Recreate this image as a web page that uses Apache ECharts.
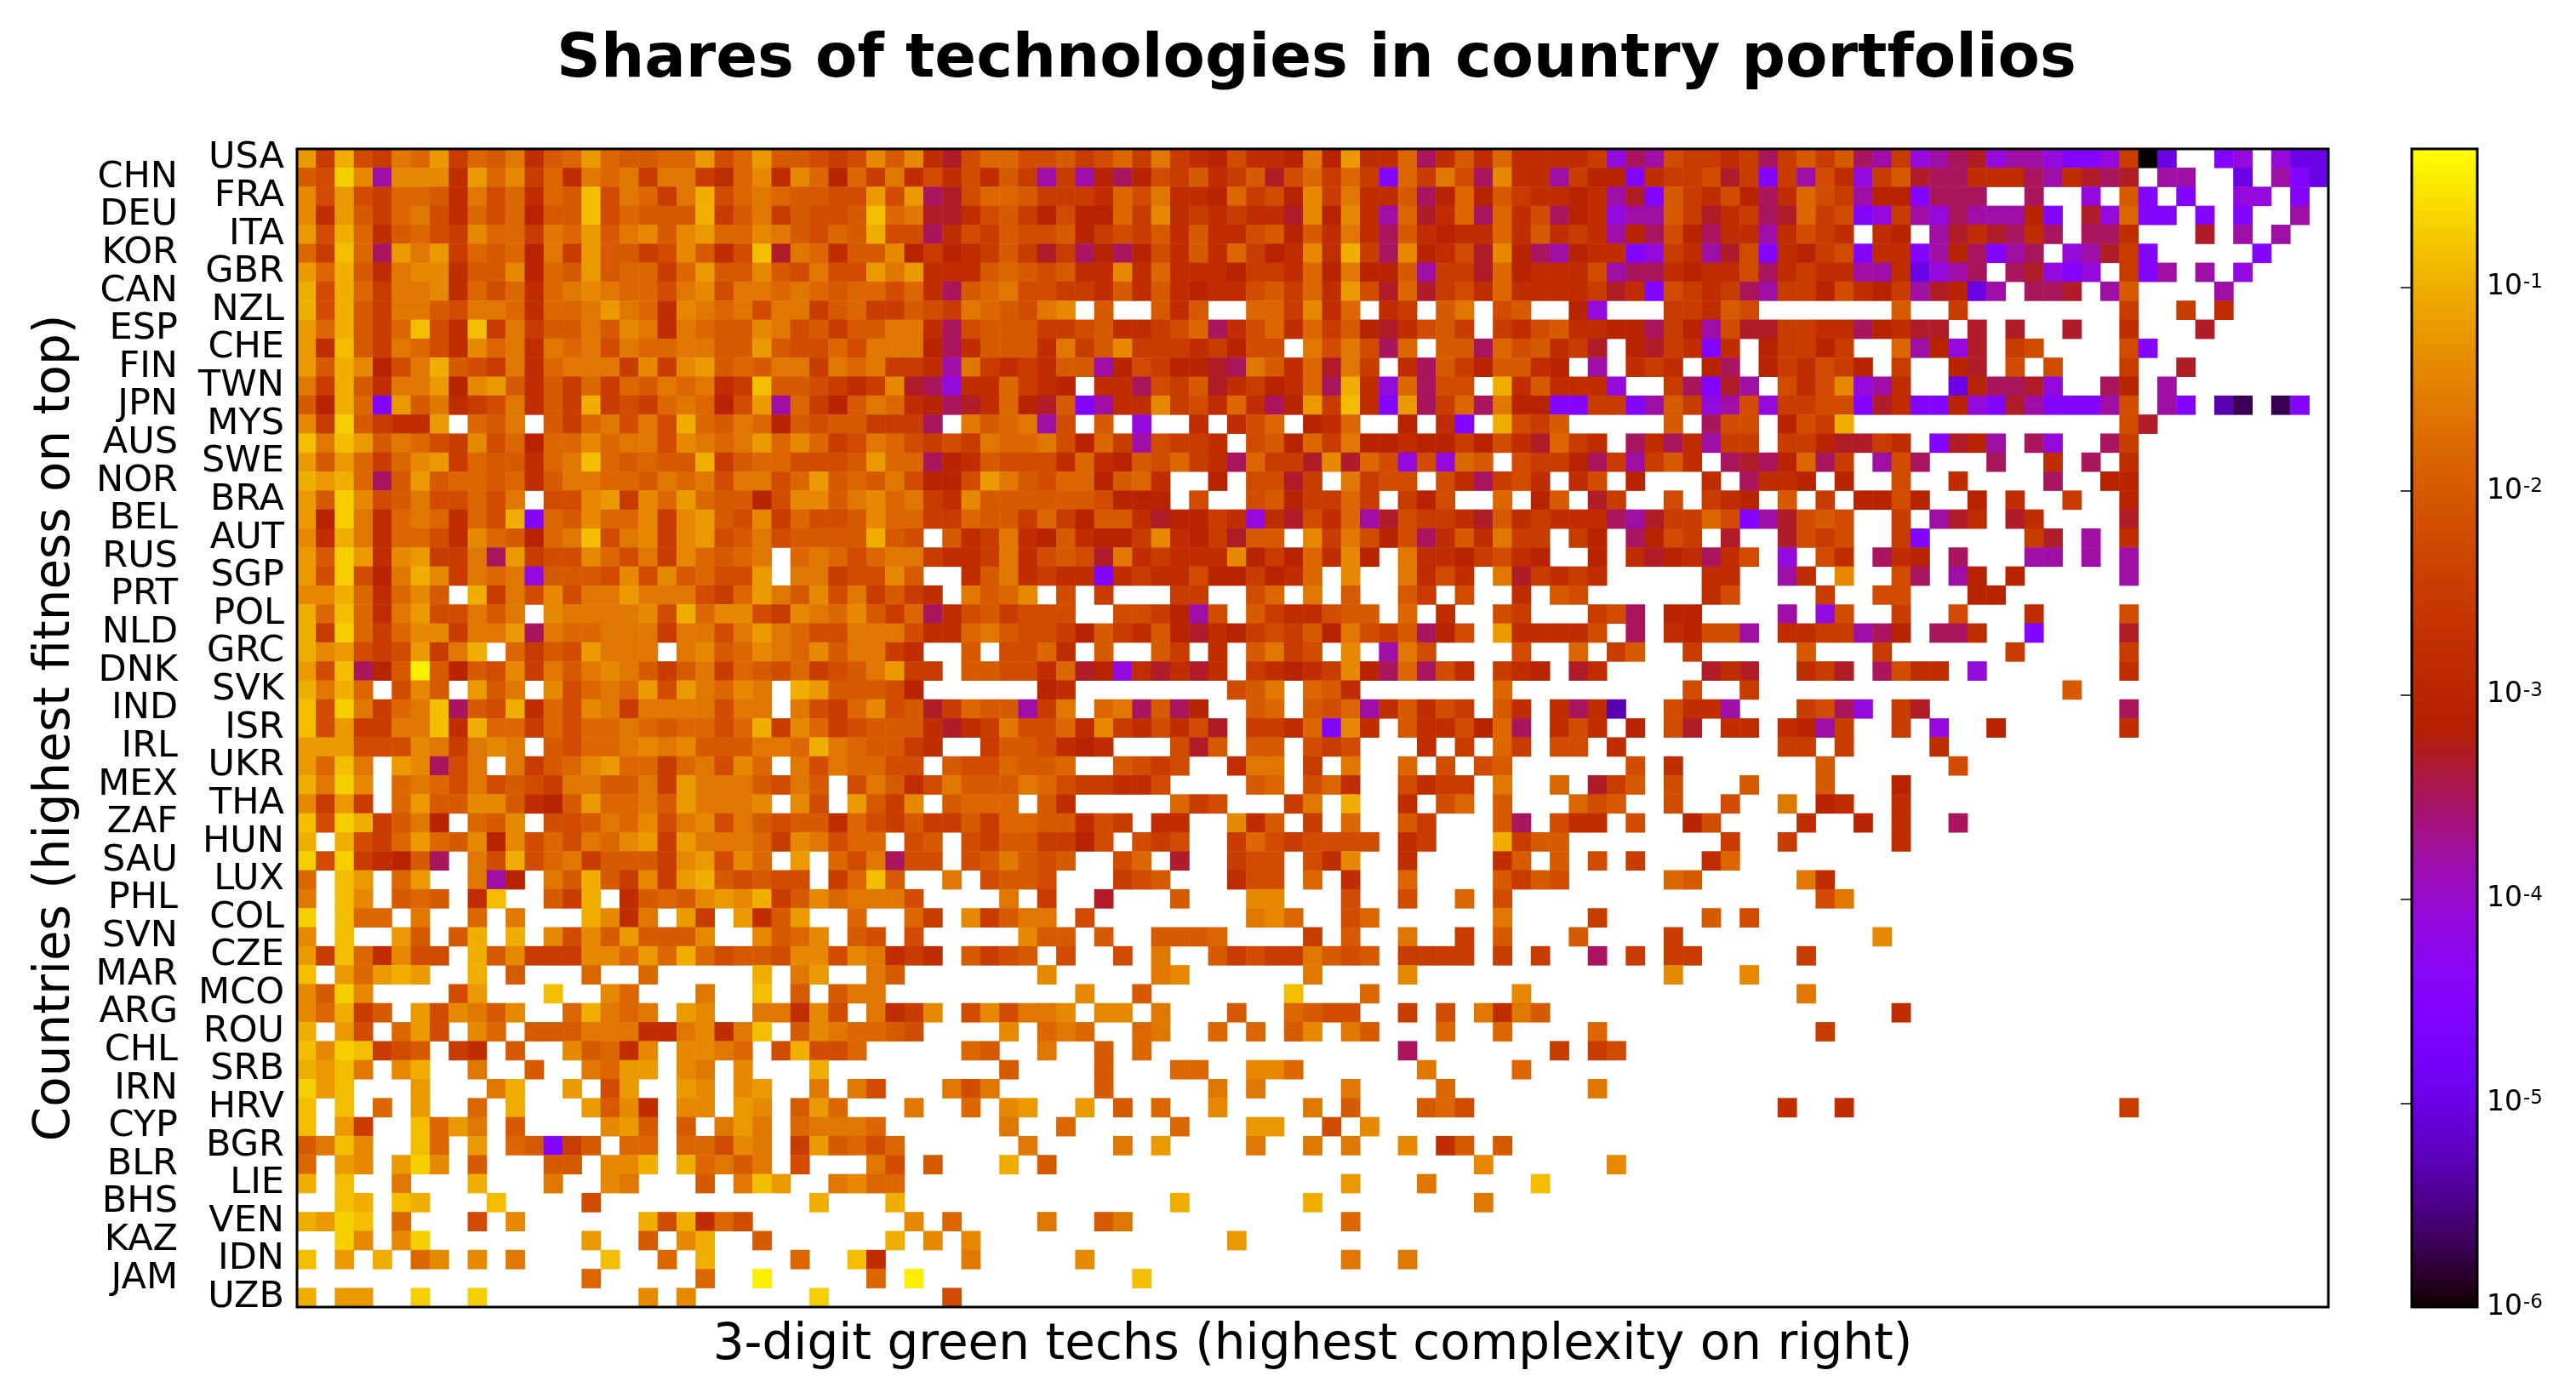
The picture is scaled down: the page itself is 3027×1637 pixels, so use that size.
<!DOCTYPE html>
<html><head><meta charset="utf-8">
<script src="https://cdn.jsdelivr.net/npm/echarts@6/dist/echarts.min.js"></script>
<style>html,body{margin:0;padding:0;background:#fff}#c{width:3027px;height:1637px}</style>
</head><body><div id="c"></div>
<script>
const countries = ["USA","CHN","FRA","DEU","ITA","KOR","GBR","CAN","NZL","ESP","CHE","FIN","TWN","JPN","MYS","AUS","SWE","NOR","BRA","BEL","AUT","RUS","SGP","PRT","POL","NLD","GRC","DNK","SVK","IND","ISR","IRL","UKR","MEX","THA","ZAF","HUN","SAU","LUX","PHL","COL","SVN","CZE","MAR","MCO","ARG","ROU","CHL","SRB","IRN","HRV","CYP","BGR","BLR","LIE","BHS","VEN","KAZ","IDN","JAM","UZB"];
const techCount = 107;
// each letter is a share, as log10(share); '.' is an empty cell
const shareLevels = {y:-0.45,a:-0.7,b:-0.85,c:-1.0,d:-1.2,e:-1.4,f:-1.6,g:-1.8,h:-2.0,i:-2.2,j:-2.5,k:-2.8,l:-3.05,m:-3.3,n:-3.5,o:-3.8,p:-4.1,q:-4.5,r:-5,s:-5.3,t:-5.7,u:-6};
// technologies 0-35
const techLeft = [
"djcijf gdjghf khgdgh hggdig dhhiji ehekmi",
"hiaeoe eekdge jgkfgf jffjkg ekeglg jfkiki",
"eidijg ghkfig kghbif gjfcig fghhii didnmi",
"ekdhjg fikgig lhhbig hhhcjh fjhiih bgfmmk",
"dicgkh gijegg jfgdhf ehedgg efhigh ciinki",
"gjbgnd fdjghg lfjdhh jiehki bmfgkh heljlk",
"dgchkf eekhhe lghdhg gjgdhh ehifii dfdkkk",
"cicgjf fekgig kgfefg gifeif fgfghg gigknh",
"cichjf fhiffg kggfdf gkefgf iffjhg jjhijf",
"dgchjg bikbjf jhhfhe fkfghh efihjh hffkni",
"dkbhjf gikegf kfgfif ggffhh dhiigi ffflnk",
"dhceli fchijf kgfffj ejedhg hffjfg fjjkof",
"fjchkf fdledh khjgjg hfgfkj bhhijk jemnpk",
"hlcgqd hfkjif khjcji jgfgli dogjlh fgklnm",
"ejahjk kd.ghf .hjgfi ficghf glhihh jjjn.f",
"bfbdhf gijeig lggegf fiefgf dgegji fgijij",
"dhdgjg edjghh kgfbgh ghhcjh ggiiih dggnlk",
"cdcgnh dhgghg khffgg hfgfif figdhg hfilli",
"dhaeih fiigif .iiedj egdghh lieehf egfjke",
"dlafkg fgkgic qghegg ejedhi ejgiih eggjjg",
"ekcfkg gikegh lgfbif ejedih fihhhh chi.hk",
"dhadke djjfnd jiiegi fjeghg f.gfgi gffjkk",
"diailf cejfgf phhhie iehgii d.ffji ieh..k",
"eecgkg eh.cjf ieiffd fffijg dfheif jhjk.f",
"cgbgkf diifhf .effff eicgee ijefge hjgnki",
"cjagjg eejffd nfggff fjffif dfgiif ffikkg",
"cediji djfc.g jhidff f.fehg efgehf fjk..h",
"dibnlh yhlhie jfhfef hjhfjg higjih fdjj.h",
"cfcg.i eh.dhf .eigfg didfge f.cdhh hil...",
"biafjg fbnhic kgiefj ffffif f.fijg eihmjg",
"bidjjf fbkcgg jgiggf ghggig cjegji hhhkmk",
"dddiii efjfef .higgf efehhh ffgcfg hhjk..",
"dgbf.d enif.f jhgedg gjgfie g.fifg gii.hi",
"cfae.g fgifih ijffhh fjdfff hifh.i fhkifh",
"ejdj.g dhheeh klhdgg fhdfff e.ei.d hje.hg",
"biacjh fl.ghe .iihfg eifeif hihhkg ijhjjh",
"c.cijg dghele igifge djdfff gjefig g.ih.i",
"aiajkl hn.fic igfjhh hjedie g.d.gi fnii.i",
"g.bd.g d..fol .fhchj ejdchi hii.jg bh..f.",
"f.be.h gh.kb. .hjc.k hghede cjhegf ffi...",
"a.bgg. f..g.f ...cek f.dj.d khd..g ..gj.e",
"e.b..d h.hc.c .eiehd hhhe.. ehge.h i.i...",
"djbgke ii.che jjjeeg dgcgih hieeie fkjk.h",
"b.dgdc d..c.h ...g.. g..... c.fd.. fh....",
"ehae.. ..id.. .b..eg ...f.. b.h.hf f.....",
"egcjh. diefhe ..gcfg f.de.. ffkei. fkje.i",
"c.di.g di.eg. hhhfff kkfekf b.hefg ghi...",
"beabji h.jk.h ..ehgk e.eefg .iciig .....g",
"cdbf.e c..f.. h..fgd d.ef.e ...c.. ......",
"adb... d...fc ..d.id ..de.e d..f.f i...fi",
"b.b.g. d..g.c ...dhe k.ee.d e.hdg. ..f..g",
"b.dj.. bgdf.h ....ed h.h.fd f.gfff g.....",
"hfbe.. bg.d.g hqjh.g g.ggie f.jdhg ig....",
"g.de.d ae.h.. .hh.ee c.cgfh f.i... fi.h..",
"c.b..f ...c.. .f..ef ...h.f bd..fe gg....",
"..bc.b c...b. ...i.. ...... ...c.. .c....",
"cdab.g ...i.e ...... cickgi ...... ..e.g.",
"..ae.e a..... ...d.. h.ec.. h..... .c.e.e",
"b.d.c. ge.e.f ....b. .g.c.. ..g..b k....f",
"...... ...... ...g.. ...g.. y..... g.y...",
"c.dd.. a..a.. ...... e.e... ...a.. ....i."
];
// technologies 36-70
const techMid = [
"ggiih jigjf jklik klfld kkgnk hkgkk kkjpn",
"khjoj olnli jhkjh migjg jqgjf inekk ojllq",
"gghjj jkgif kklgj ilejf kkhnl glhjk klkom",
"ihjli llgje kjkjk kmele kogmk gngki nlkpo",
"jhiih ljijh khkki hlhkf knhkl kkgkh kjkol",
"jhjmj nlnli khkgj lkekc jnelk imeln olkkq",
"hghih kkekg kkklj jkglf llhoj jmglk kkion",
"gfiij jkhkh klkki hjgkd imgmj ikgkk kkjmk",
"ghife .h..h kh..g gjekg .kj.h f.ih. .lp..",
"hhhjj ihkkj ignki gkgjh lmkih j.jki hkkll",
"hhhkf jhejj jkjli i.fif ing.h hngih kjm.l",
"jkjkh holij llmnf hkgmf j.knh jlhhk l.o.k",
"kgjkl .kkni jhmkj lkgnc kpgni i.ckh kkkp.",
"kglmh qokke jikgk nldjb kqdnj gnfll qqjjq",
"hgfoi .h.p. .k.ki g.lkg ..l.k q.cij h....",
"fggfi lgjoi jjk.i hlgjf llkll jlikm gjk.n",
"hiiik gklhi gjkng jjmem gipip gh.ij jlnjo",
"dfhig glhgk ..l.i imj.f jii.i knjik .ki.l",
"hhhhh hilll .i..i hljjg j.jli ..g.l h.mj.",
"hhjgj lhhkm lljkp kmikg omijj kmhkj kkkno",
"jfklh kllje kljmh h.ejf ilink hkfjj .jl.n",
"jfkih imfkj kkkel jlgke l.fkk ljikl ..l.k",
"hfkjk kqkjk killj lkg.e ..fki k.fmj kjk..",
"hge.i .j... jj..i g.f.h ..hj. i..k. hi...",
"hjiii ..iij loi.h jkkih h.g.k ..ij. ..jin",
"fhiij lhjkh lmklj ijhlf ijhnl i.dkk kki.n",
".iigk .h..h j.k.h fji.e .ofi. ...i. .g.jh",
"hiikg mlpkm kmk.j klkje lngni k.jkl .mk..",
"...lk ..... ...ih f.ghk ..... ..g.. .....",
"hhojf .gfnh nl..h g.hig okhki j.hk. knks.",
"jfiig kejki kim.j jkgqe k.hkk ilgn. kik.l",
"jhhik lk... imh.h h.iji ...k. j.gj. ii.k.",
"ighhg ..hij i..kf f.j.f ..g.i .ih.. ....i",
"hhfgi jjkki ....h g.igk ..ikj j.f.. g.mjh",
"gg.hk ..... gji.. .jf.c ..k.i g.h.. .gih.",
"jgghh kij.k k..ek h.j.g ..hj. ..hn. ikk.i",
"jhhjj li.ij i..jg ijiii i.kj. ..cjh h....",
"hfhih ..ig. m..ji i.ike ..k.. ..kh. h.i.j",
"ihhi. ..jih ...ki i.g.k ..g.. ..hjh i....",
".f.j. .m... h...e e...i ..i.. g.i.. .....",
"jhff. i.... ....f eg..i g.... ..f.. ..j..",
"..ehh .h..h hhg.. ..j.h ..f.. j.h.. .h...",
"jih.i ..i.f ..hji jjfhi h.jjj j.j.j ..n.j",
"...e. ....f e.... ..f.. ..e..",
"..... e..h. ..... .b... g.... ...e.",
"eiffe .ee.f ...h. .ghii ..j.i .fkfh",
".e.gf g..gf ..g.g .he.f h...g ..g.. ..g..",
"h..f. .h.g. ..... ..... ..n.. ..... j.ji.",
".h... .h... gg..e eg... ...f. ...g.",
"f.... .h... ..f.f ....f ....g ..... ..f..",
".ed.. d.h.g ..e.. ..f.h ...hg i....",
".f..g ..... g...d d..i. e....",
"..f.. ..f.d ....f ..f.f ..e.k h.h..",
".c.h. ..... ..... ..... ..... .e... ...e.",
"..... ..... ..... ....d ...f. ....b",
"..... ..... c.... ..c.. ..... .f...",
"...f. .hf.. ..... ....g",
"..... ..... ...d.",
"..... e.... ..... ....f ..f..",
"..... ...b.",
""
];
// technologies 71-106
const techRight = [
"oijjkj njhjhn ojponm poopqq pjur.. qp.prr",
"kjjimj qjoikp jhmnnk kknokm nm.oo. .r.oqr",
"qhjkil nkgijo llqnnn ..n..p .hq.q. .pp.q.",
"ohjmkj nmgjiq pjopno oolq.m pgqq.q .q..o.",
"nilnkk okijk. kl.omk mnkn.n nk...m .o.o..",
"pjkomi qkljiq kkqoln qon.po mjq... ..q...",
"nklkki nkjkko okrpon .nmpqp .jqo.o .p....",
"qijkjn ojjlik ljomlr o.nnm. oh.... o.....",
".jjkhi ...... .h..j. ...... .j..j. k.....",
"njloim mjjkkn lkmm.m .m..m. .k...m",
"mjkqk. ljjlj. .golpm .ji... .iq...",
"jk.ln. ljkijl .j..lm .i.i.. .j..m.",
".jnqmo .ikiep ok..rl nnmp.. nl.o..",
"ohjpoi pjjiiq mkqqlp qmoqqq oi.oq. st.tq.",
".h.nii .lijc. ...... ...... .im...",
"knkojj .jjlmm jk.qml o.np.. nj....",
"jhk.nm nlgnj. oin... n..k.n .k....",
"...k.n kkl.l. .i..k. ...n.. ll....",
".i.jkl .h.j.l lil..l .k..j. .l....",
"mjjgiq omihi. .j.omk .mk... .m....",
"lij.m. .miji. .jq... ..jm.o .k....",
"mlknki .p.ik. nkl.n. ..oo.o .o....",
"...kk. .ok.e. .in.ol .l.... .o....",
"...ki. ...j.. ii...l l.....",
".ll... .o.pi. .j..i. ..k... .i....",
".kliio .kkjjo nl.nnk ..q... .m....",
"..j... ..h... j..... .j.... .j....",
"...mkm ..kjm. nikk.p ...... .k....",
"..i..j ...... ...... ....h.",
".ikko. ..jinp .jm... ...... .n....",
".im.kk .kloj. .j.p.. l..... .k....",
"...... .jj.j. ...k..",
".k.... ...h.. ....i.",
".i...h ...h.. .l....",
".i..i. .f.lk. .k....",
"..li.. ..k..l .k..n.",
"....j. .j.... .k....",
"...kg.",
".gh... ..fk..",
"...... ...if.",
"...h.i",
".j.... ...... e.....",
".jj... ..j...",
".e...e",
"...... ..f...",
"...... ...... .k....",
"...... ...j..",
"","","",
"...... .k..k. ...... ...... .j....",
"","","","","","","","","",""
];
const colorbarLabels = [-6,-5,-4,-3,-2,-1];
const colorbarTicks = [-5,-4,-3,-2,-1];
const logMin = -6, logMax = -0.322;

function segment(s, len){ return s.replace(/ /g,'').padEnd(len,'.').slice(0,len); }
const cells = [];
countries.forEach((c, r) => {
  const line = segment(techLeft[r],36) + segment(techMid[r],35) + segment(techRight[r],36);
  for (let t = 0; t < techCount; t++) {
    const lv = shareLevels[line[t]];
    if (lv !== undefined) cells.push([t, r, lv]);
  }
});
// the "gnuplot" colour ramp
function ramp(x){
  const r = Math.sqrt(x), g = x*x*x, b = Math.max(0, Math.sin(2*Math.PI*x));
  return 'rgb(' + Math.round(r*255) + ',' + Math.round(g*255) + ',' + Math.round(b*255) + ')';
}
const rampStops = []; for (let i = 0; i <= 128; i++) rampStops.push(ramp(i/128));
const barSteps = []; for (let i = 0; i < 400; i++) barSteps.push([i/400, (i+1)/400]);
const techs = Array.from({length: techCount}, (_, i) => String(i));
const black = '#000';
const chart = echarts.init(document.getElementById('c'), null, {renderer:'canvas'});
chart.setOption({
  animation:false,
  backgroundColor:'#fff',
  textStyle:{fontFamily:'DejaVu Sans'},
  title:{text:'Shares of technologies in country portfolios', left:1542, top:30, textAlign:'center',
    textStyle:{fontFamily:'DejaVu Sans', fontWeight:'bold', fontSize:72, color:black}},
  grid:[
    {left:349, top:175, width:2387, height:1361, show:true, backgroundColor:'transparent', borderColor:black, borderWidth:3, z:10},
    {left:2834, top:175, width:77, height:1361, show:true, backgroundColor:'transparent', borderColor:black, borderWidth:3, z:10}
  ],
  xAxis:[
    {gridIndex:0, type:'category', data:techs, axisLine:{show:false}, axisTick:{show:false}, axisLabel:{show:false}, splitLine:{show:false},
     name:'3-digit green techs (highest complexity on right)', nameLocation:'middle', nameGap:46,
     nameTextStyle:{fontFamily:'DejaVu Sans', fontSize:58, color:black, verticalAlign:'middle'}},
    {gridIndex:1, type:'value', min:0, max:1, show:false}
  ],
  yAxis:[
    {gridIndex:0, type:'category', data:countries, inverse:true, axisLine:{show:false}, axisTick:{show:false}, splitLine:{show:false},
     axisLabel:{show:true, interval:0, margin:15, fontFamily:'DejaVu Sans', fontSize:43, color:black, hideOverlap:false,
       formatter:(v,i)=> i%2 ? '{far|'+v+'}' : '{near|'+v+'}',
       rich:{near:{fontSize:43,fontFamily:'DejaVu Sans',color:black},
             far:{fontSize:43,fontFamily:'DejaVu Sans',color:black,padding:[0,125,0,0]}}},
     name:'Countries (highest fitness on top)', nameLocation:'middle', nameRotate:90, nameGap:283,
     nameTextStyle:{fontFamily:'DejaVu Sans', fontSize:58, color:black, verticalAlign:'middle'}},
    {gridIndex:1, type:'value', position:'right', min:logMin, max:logMax, interval:1, z:12,
     axisLine:{show:false}, splitLine:{show:false},
     axisTick:{show:true, inside:true, length:13, customValues:colorbarTicks, lineStyle:{color:black, width:1.5}},
     axisLabel:{show:true, margin:11, align:'left', color:black, customValues:colorbarLabels,
       formatter:v=> '{b|10}{s|'+v+'}',
       rich:{b:{fontSize:33,fontFamily:'DejaVu Sans',color:black},
             s:{fontSize:23,fontFamily:'DejaVu Sans',color:black,verticalAlign:'top',padding:[0,0,8,1]}}}}
  ],
  visualMap:{show:false, type:'continuous', seriesIndex:0, min:logMin, max:logMax, inRange:{color:rampStops}},
  series:[
    {type:'heatmap', xAxisIndex:0, yAxisIndex:0, data:cells, progressive:0, emphasis:{disabled:true}, itemStyle:{borderWidth:0}},
    {type:'custom', xAxisIndex:1, yAxisIndex:1, data:barSteps, silent:true, clip:true,
     renderItem:(p,api)=>{
       const f0 = api.value(0), f1 = api.value(1);
       const a = api.coord([0, logMin+(logMax-logMin)*f0]), b = api.coord([1, logMin+(logMax-logMin)*f1]);
       return {type:'rect', shape:{x:a[0], y:b[1], width:b[0]-a[0], height:a[1]-b[1]+1},
               style:{fill:ramp((f0+f1)/2)}};
     }}
  ]
});
</script></body></html>
